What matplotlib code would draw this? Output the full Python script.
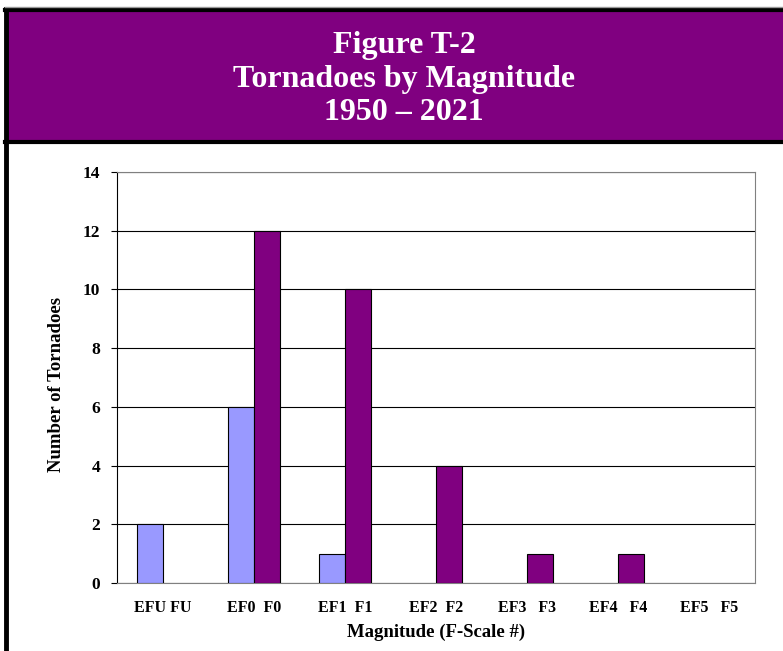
"""Figure T-2: Tornadoes by magnitude, 1950-2021."""
import matplotlib
matplotlib.use('Agg')
import matplotlib.pyplot as plt
import numpy as np
from matplotlib.patches import Rectangle
from matplotlib.lines import Line2D

plt.rcParams.update({'font.family': 'serif', 'font.serif': ['Liberation Serif', 'DejaVu Serif'],
                     'font.weight': 'bold'})

categories = ['EFU FU', 'EF0  F0', 'EF1  F1', 'EF2  F2', 'EF3   F3', 'EF4   F4', 'EF5   F5']
ef_counts = [2, 6, 1, 0, 0, 0, 0]
f_counts = [0, 12, 10, 4, 1, 1, 0]

W, H = 783, 651
fig = plt.figure(figsize=(W / 100, H / 100), dpi=100)

# header box + frame
fig.patches.append(Rectangle((6 / W, 1 - 142 / H), 1, 132 / H, transform=fig.transFigure,
                             facecolor='#800080', edgecolor='none', zorder=0))
fig.lines.append(Line2D([6 / W, 6 / W], [0, 1 - 9 / H], transform=fig.transFigure,
                        color='black', linewidth=3.5))
fig.lines.append(Line2D([5 / W, 1], [1 - 10 / H, 1 - 10 / H], transform=fig.transFigure,
                        color='black', linewidth=3))
fig.lines.append(Line2D([5 / W, 1], [1 - 142 / H, 1 - 142 / H], transform=fig.transFigure,
                        color='black', linewidth=3))
fig.lines.append(Line2D([5 / W, 1], [1 - 7 / H, 1 - 7 / H], transform=fig.transFigure,
                        color='#999999', linewidth=1))

fig.text(404 / W, 1 - 79 / H, 'Figure T-2\nTornadoes by Magnitude\n1950 \u2013 2021',
         ha='center', va='center', color='white', fontsize=23, fontweight='bold',
         linespacing=1.2)

ax = fig.add_axes([117 / W, 1 - 583 / H, 638 / W, 411 / H])
x = np.arange(len(categories))
width = 1 / 3.5
ef_lw = [0.8 if v > 0 else 0 for v in ef_counts]
f_lw = [0.8 if v > 0 else 0 for v in f_counts]
ax.bar(x - width / 2, ef_counts, width, color='#9999FF', edgecolor='black', linewidth=ef_lw, zorder=3)
ax.bar(x + width / 2, f_counts, width, color='#800080', edgecolor='black', linewidth=f_lw, zorder=3)

ax.set_xlim(-0.5, len(categories) - 0.5)
ax.set_ylim(0, 14)
ax.set_yticks(range(0, 15, 2))
ax.set_xticks(x)
ax.set_xticklabels(categories)
ax.tick_params(axis='x', length=0, pad=12, labelsize=11.5)
ax.tick_params(axis='y', length=4.5, width=0.8, pad=7.5, labelsize=12.5)
ax.yaxis.grid(True, color='black', linewidth=0.8, zorder=0)
ax.set_axisbelow(True)
for side in ['top', 'right', 'bottom']:
    ax.spines[side].set_color('#808080')
ax.spines['left'].set_color('black')
ax.spines['left'].set_linewidth(0.8)

ax.set_xlabel('Magnitude (F-Scale #)', fontsize=13.5, fontweight='bold', labelpad=6)
ax.set_ylabel('Number of Tornadoes', fontsize=13.5, fontweight='bold')
ax.yaxis.set_label_coords(-0.0815, 0.484)

fig.savefig('out.png', dpi=100)
